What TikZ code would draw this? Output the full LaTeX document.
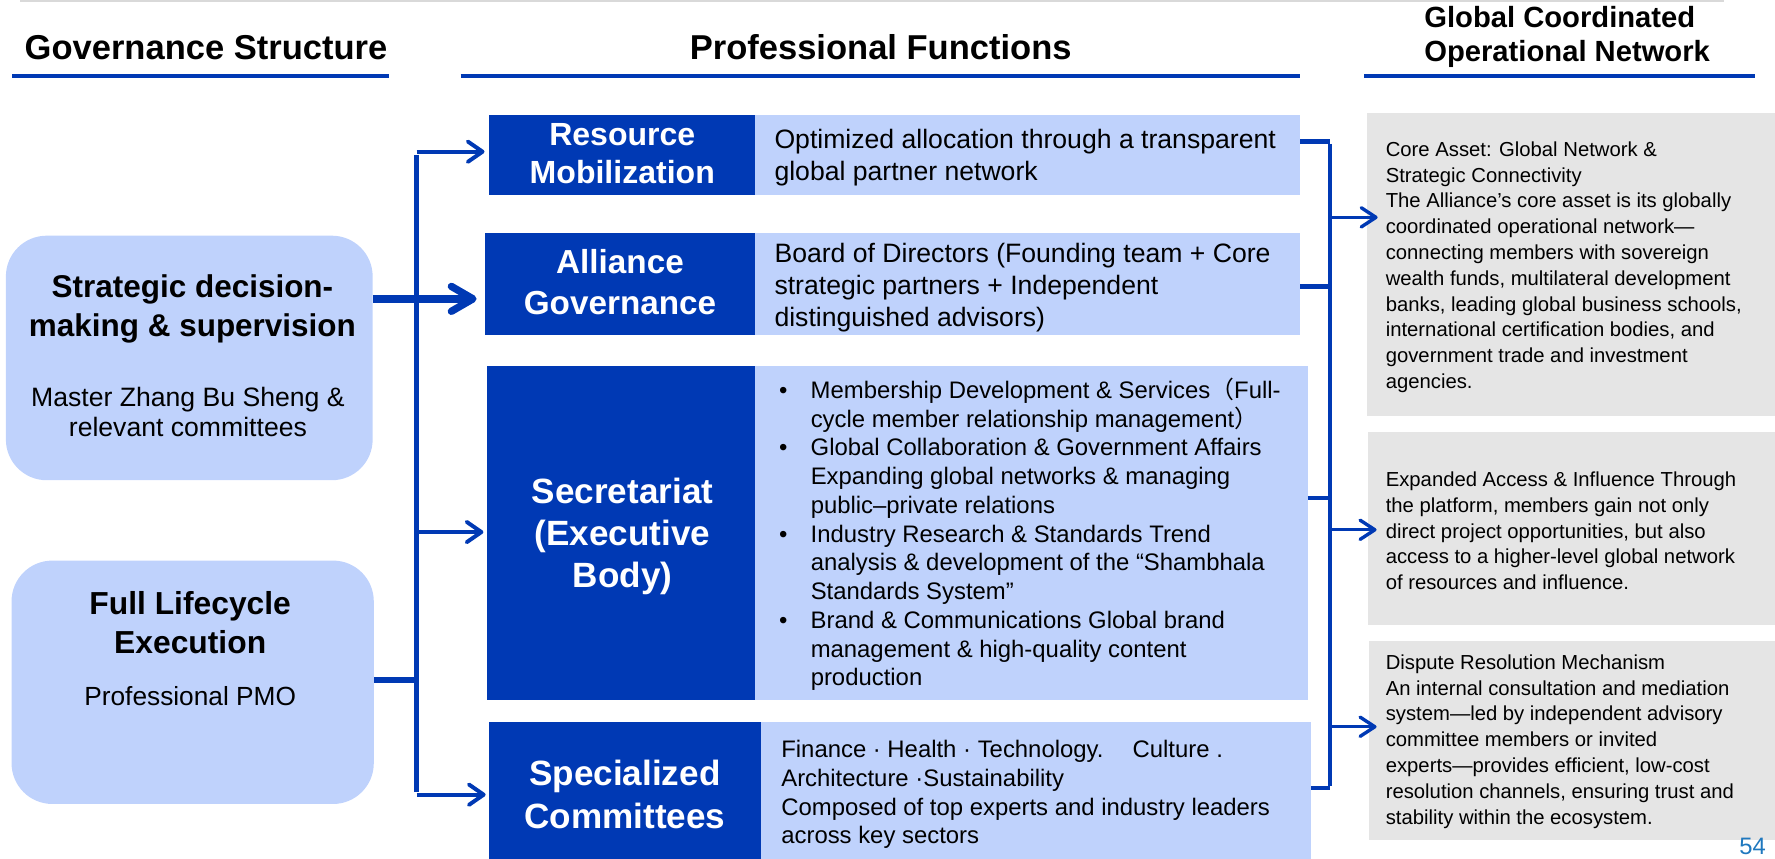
\documentclass[tikz,border=0pt]{standalone}
\usepackage{fontspec}
\setmainfont{Liberation Sans}
\newfontfamily\cjk{Noto Sans CJK SC}
\usetikzlibrary{arrows.meta}
\definecolor{dblue}{RGB}{0,57,180}
\definecolor{lblue}{RGB}{191,210,252}
\definecolor{gbox}{RGB}{229,229,229}
\definecolor{topgrey}{RGB}{217,217,217}
\definecolor{pgnum}{RGB}{31,120,190}
\newcommand{\fs}[2]{\fontsize{#1pt}{#2pt}\selectfont}
\newcommand{\bul}{\makebox[28pt][l]{•}}
\newcommand{\ind}{\hspace*{28pt}}
\begin{document}
\begin{tikzpicture}[x=1pt,y=-1pt,
  hdr/.style={font=\fs{30.5}{30}\bfseries, inner sep=0pt},
  ul/.style={draw=dblue, line width=3pt},
  rbox/.style={fill=lblue, draw=none, rounded corners=36pt, inner sep=0pt, anchor=north west},
  dbox/.style={fill=dblue, draw=none, inner sep=0pt, anchor=north west},
  tbox/.style={fill=lblue, draw=none, inner sep=0pt, anchor=north west},
  gbx/.style={fill=gbox, draw=none, inner sep=0pt, anchor=north west},
  dlabel/.style={text=white, align=center, inner sep=0pt},
  mtext/.style={anchor=west, align=left, inner sep=0pt, font=\fs{23.5}{28.4}},
  stext/.style={anchor=west, align=left, inner sep=0pt, font=\fs{21.1}{25.4}},
  gtext/.style={anchor=west, align=left, inner sep=0pt, font=\fs{17.9}{22.8}},
  conn/.style={draw=dblue, line width=4pt},
  lconn/.style={draw=dblue, line width=5pt},
  arr/.style={draw=dblue, line width=3.5pt, -{Straight Barb[length=13pt,width=18pt,round]}},
  rarr/.style={draw=dblue, line width=3pt, -{Straight Barb[length=13pt,width=17pt,round]}},
  bigarr/.style={draw=dblue, line width=6.5pt, -{Straight Barb[length=19pt,width=22pt,round]}}
]
\useasboundingbox (0,0) rectangle (1568,758);

% top line and headers
\draw[topgrey, line width=2pt] (18,1) -- (1523,1);
\node[hdr] (h1) at (182,42) {Governance Structure};
\node[hdr] (h2) at (778,42) {Professional Functions};
\node[hdr, font=\fs{25.8}{30}\bfseries, align=left, anchor=west] (h3) at (1258,33) {Global Coordinated\\Operational Network};
\draw[ul] (11,67) -- (344,67);
\draw[ul] (407,67) -- (1148,67);
\draw[ul] (1205,67) -- (1550,67);

% left boxes
\node[rbox, minimum width=324pt, minimum height=216pt] (sd) at (5,208) {};
\node[dlabel, text=black, font=\fs{27.8}{34}\bfseries] (sdT) at (170,273) {Strategic decision-\\making \& supervision};
\node[dlabel, text=black, font=\fs{23.5}{27}] (sdS) at (166,364) {Master Zhang Bu Sheng \&\\relevant committees};

\node[rbox, minimum width=320pt, minimum height=215pt] (fl) at (10,495) {};
\node[dlabel, text=black, font=\fs{28.1}{34}\bfseries] (flT) at (168,550) {Full Lifecycle\\Execution};
\node[dlabel, text=black, font=\fs{23.2}{27}] (flS) at (168,615) {Professional PMO};

% middle: resource mobilization
\node[dbox, minimum width=235pt, minimum height=71pt] (rm) at (432,101) {};
\node[tbox, minimum width=481pt, minimum height=71pt] (rmB) at (667,101) {};
\node[dlabel, font=\fs{28.3}{33}\bfseries] (rmL) at ([yshift=1pt]rm.center) {Resource\\Mobilization};
\node[mtext] (rmT) at (684,139) {Optimized allocation through a transparent\\global partner network};

% alliance governance
\node[dbox, minimum width=239pt, minimum height=90pt] (ag) at (428,206) {};
\node[tbox, minimum width=481pt, minimum height=90pt] (agB) at (667,206) {};
\node[dlabel, font=\fs{29.4}{37}\bfseries] (agL) at ([yshift=2pt]ag.center) {Alliance\\Governance};
\node[mtext] (agT) at (684,254) {Board of Directors (Founding team + Core\\strategic partners + Independent\\distinguished advisors)};

% secretariat
\node[dbox, minimum width=237pt, minimum height=295pt] (se) at (430,323) {};
\node[tbox, minimum width=488pt, minimum height=295pt] (seB) at (667,323) {};
\node[dlabel, font=\fs{31}{37}\bfseries] (seL) at (550,474) {Secretariat\\(Executive\\Body)};
\node[stext] (seT) at (688,472) {\bul Membership Development \& Services{\cjk （}Full-\\
\ind cycle member relationship management{\cjk ）}\\
\bul Global Collaboration \& Government Affairs\\
\ind Expanding global networks \& managing\\
\ind public–private relations\\
\bul Industry Research \& Standards Trend\\
\ind analysis \& development of the “Shambhala\\
\ind Standards System”\\
\bul Brand \& Communications Global brand\\
\ind management \& high-quality content\\
\ind production};

% specialized committees
\node[dbox, minimum width=240pt, minimum height=122pt] (sc) at (432,638) {};
\node[tbox, minimum width=486pt, minimum height=122pt] (scB) at (672,638) {};
\node[dlabel, font=\fs{31}{38}\bfseries] (scL) at (552,702) {Specialized\\Committees};
\node[stext] (scT) at (690,702) {Finance · Health · Technology.\hspace{18pt} Culture .\\Architecture ·Sustainability\\Composed of top experts and industry leaders\\across key sectors};

% right grey boxes
\node[gbx, minimum width=361pt, minimum height=267pt] (ga) at (1207,100) {};
\node[gtext] (gaT) at (1224,236) {Core Asset: Global Network \&\\Strategic Connectivity\\The Alliance’s core asset is its globally\\coordinated operational network—\\connecting members with sovereign\\wealth funds, multilateral development\\banks, leading global business schools,\\international certification bodies, and\\government trade and investment\\agencies.};

\node[gbx, minimum width=360pt, minimum height=171pt] (gb) at (1208,381) {};
\node[gtext] (gbT) at (1224,469) {Expanded Access \& Influence Through\\the platform, members gain not only\\direct project opportunities, but also\\access to a higher-level global network\\of resources and influence.};

\node[gbx, minimum width=359pt, minimum height=176pt] (gc) at (1209,566) {};
\node[gtext] (gcT) at (1224,655) {Dispute Resolution Mechanism\\An internal consultation and mediation\\system—led by independent advisory\\committee members or invited\\experts—provides efficient, low-cost\\resolution channels, ensuring trust and\\stability within the ecosystem.};

\node[font=\fs{21}{21}, text=pgnum, anchor=base east, inner sep=0pt] (pg) at (1560,755) {54};

% left connectors
\coordinate (lt) at (368,134);
\coordinate (lb) at (368,702);
\coordinate (lm) at (368,470);
\coordinate (lf) at (366,601);
\draw[lconn] ([yshift=-2.5pt]lt) -- ([yshift=2.5pt]lb);
\draw[arr] (lt) -- ([xshift=-4pt]rm.west |- lt);
\draw[arr] (lm) -- ([xshift=-3pt]se.west |- lm);
\draw[arr] (lb) -- ([xshift=-3pt]sc.west |- lb);
\draw[bigarr] (sd.east |- 0,264) -- ([xshift=-7pt]ag.west |- 0,264);
\draw[draw=dblue, line width=5.5pt] (fl.east |- lf) -- (lf);

% right connectors
\coordinate (rt) at (1175,125);
\coordinate (rb) at (1175,696);
\draw[conn] ([yshift=-2pt]rt) -- ([yshift=2pt]rb);
\draw[conn] (rmB.east |- rt) -- (rt);
\draw[conn] (agB.east |- 0,253) -- (1175,253);
\draw[conn] (seB.east |- 0,440) -- (1175,440);
\draw[conn] (scB.east |- rb) -- (rb);
\coordinate (ra) at (1175,192);
\coordinate (rbm) at (1175,468);
\coordinate (rc) at (1175,642);
\draw[rarr] (ra) -- ([xshift=10pt]ga.west |- ra);
\draw[rarr] (rbm) -- ([xshift=8pt]gb.west |- rbm);
\draw[rarr] (rc) -- ([xshift=7pt]gc.west |- rc);
\end{tikzpicture}
\end{document}
